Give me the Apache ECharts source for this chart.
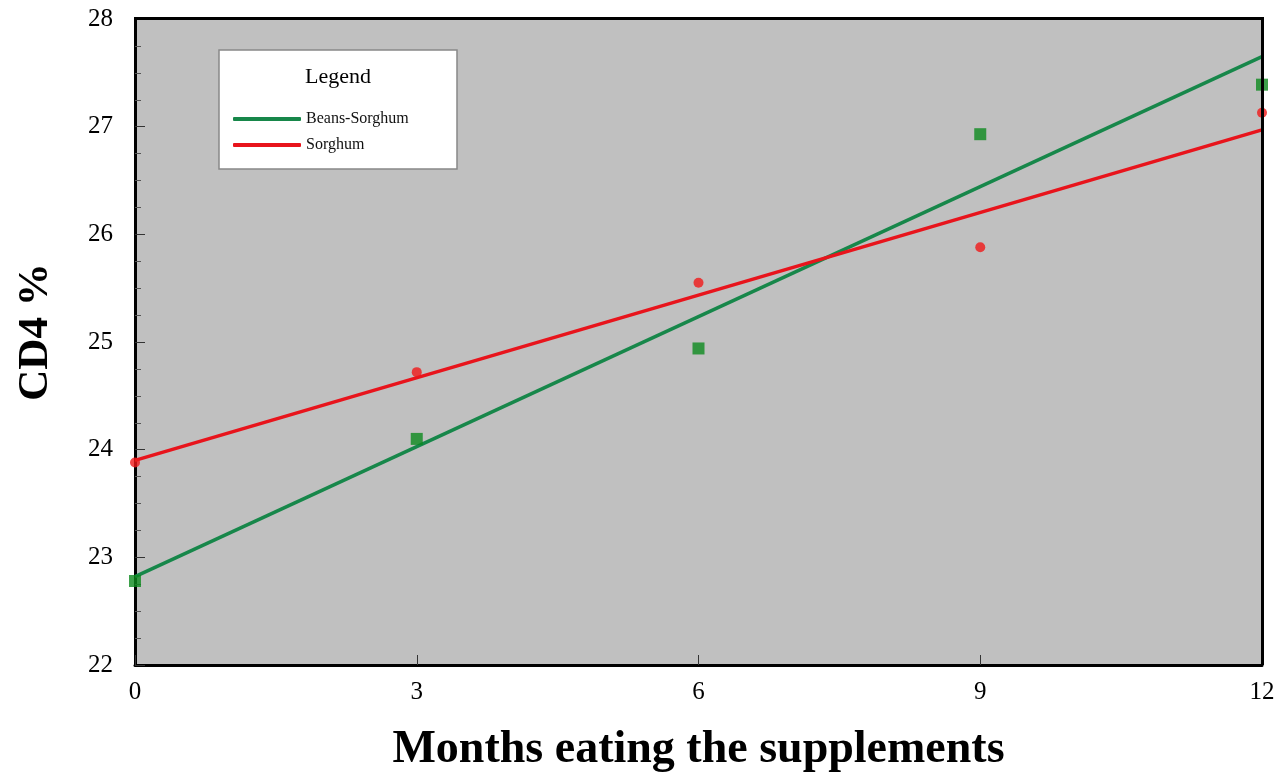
<!DOCTYPE html>
<html><head><meta charset="utf-8">
<script src="https://cdn.jsdelivr.net/npm/echarts@6/dist/echarts.min.js"></script>
<style>html,body{margin:0;padding:0;background:#fff}#c{width:1276px;height:772px}</style>
</head><body><div id="c"></div>
<script>
const months = [0, 3, 6, 9, 12];
const beansSorghum = [22.78, 24.10, 24.94, 26.93, 27.39];
const sorghum = [23.88, 24.72, 25.55, 25.88, 27.13];
const lineX = [0, 12];
const beansSorghumFit = [22.82, 27.65];
const sorghumFit = [23.90, 26.97];
const xTicks = [0, 3, 6, 9, 12];
const yTicks = [22, 23, 24, 25, 26, 27, 28];

const chart = echarts.init(document.getElementById('c'), null, {renderer: 'canvas'});
const font = '"Liberation Serif", "Times New Roman", serif';
const green = '#17874a', red = '#e8141c';
const zip = (xs, ys) => xs.map((x, i) => [x, ys[i]]);
chart.setOption({
  animation: false,
  grid: {left: 135, right: 14, top: 19, bottom: 107, show: true, backgroundColor: '#c0c0c0', borderColor: '#000', borderWidth: 0, containLabel: false, outerBoundsMode: 'none'},
  xAxis: {
    type: 'value', min: 0, max: 12, interval: 3,
    name: 'Months eating the supplements', nameLocation: 'middle', nameGap: 62,
    nameTextStyle: {fontFamily: font, fontWeight: 'bold', fontSize: 46, color: '#000'},
    axisLine: {lineStyle: {color: '#000', width: 3}},
    axisTick: {inside: true, length: 10, lineStyle: {color: '#333'}},
    axisLabel: {fontFamily: font, fontSize: 25, color: '#000', margin: 15, formatter: v => xTicks.includes(v) ? String(v) : ''},
    splitLine: {show: false}
  },
  yAxis: {
    type: 'value', min: 22, max: 28, interval: 1,
    name: 'CD4 %', nameLocation: 'middle', nameGap: 78,
    nameTextStyle: {fontFamily: font, fontWeight: 'bold', fontSize: 43, color: '#000', padding: [0, 0, 0, 20]},
    axisLine: {lineStyle: {color: '#000', width: 3}},
    axisTick: {inside: true, length: 10, lineStyle: {color: '#333'}},
    minorTick: {show: true, splitNumber: 4, length: 6, lineStyle: {color: '#555'}},
    axisLabel: {fontFamily: font, fontSize: 25, color: '#000', margin: 22, formatter: v => yTicks.includes(v) ? String(v) : ''},
    splitLine: {show: false}
  },
  graphic: [
    {type: 'rect', shape: {x: 219, y: 50, width: 238, height: 119}, style: {fill: '#fff', stroke: '#888', lineWidth: 1.5}, z: 50},
    {type: 'text', x: 338, y: 77, style: {text: 'Legend', font: '22px ' + font, fill: '#000', textAlign: 'center', textVerticalAlign: 'middle'}, z: 51},
    {type: 'rect', shape: {x: 1261, y: 19, width: 3, height: 646}, style: {fill: '#000'}, z: 40},
    {type: 'rect', shape: {x: 134, y: 17, width: 1130, height: 3}, style: {fill: '#000'}, z: 40}
  ],
  legend: {
    orient: 'vertical', left: 228, top: 106, itemWidth: 68, itemHeight: 4, itemGap: 10,
    icon: 'roundRect', z: 60,
    textStyle: {fontFamily: font, fontSize: 16, color: '#111'},
    data: ['Beans-Sorghum', 'Sorghum']
  },
  series: [
    {name: 'Beans-Sorghum', type: 'line', data: zip(lineX, beansSorghumFit), showSymbol: false, symbol: 'none', lineStyle: {color: green, width: 3.5}, itemStyle: {color: green}, z: 3},
    {name: 'Sorghum', type: 'line', data: zip(lineX, sorghumFit), showSymbol: false, symbol: 'none', lineStyle: {color: red, width: 3.5}, itemStyle: {color: red}, z: 3},
    {name: 'Beans-Sorghum pts', type: 'scatter', data: zip(months, beansSorghum), symbol: 'rect', symbolSize: 12, itemStyle: {color: '#0c8a1e'}, z: 5},
    {name: 'Sorghum pts', type: 'scatter', data: zip(months, sorghum), symbol: 'circle', symbolSize: 10, itemStyle: {color: '#f01818'}, z: 5}
  ]
});
</script></body></html>
